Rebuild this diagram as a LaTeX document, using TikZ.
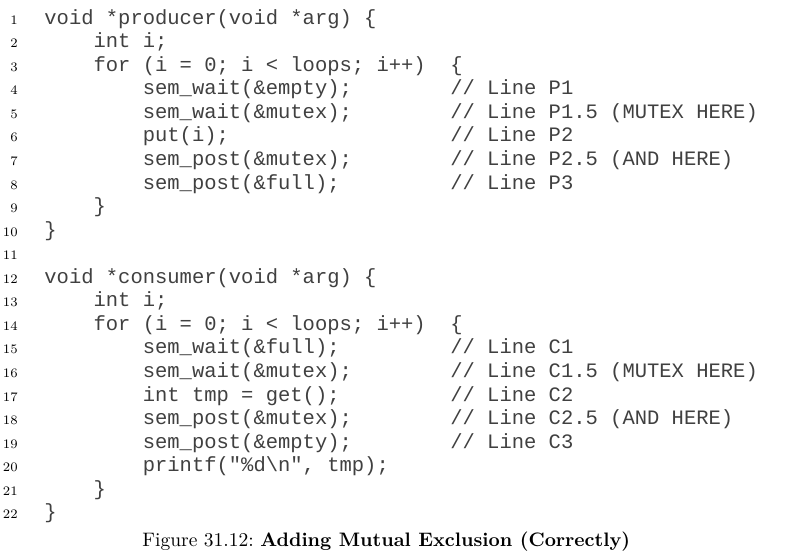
\documentclass[tikz,border=0pt]{standalone}
\usepackage{fontspec}
\setmonofont{Liberation Mono}
\frenchspacing
\newcommand{\codefont}{\fontsize{10.25}{12}\selectfont\ttfamily}
\newcommand{\numfont}{\fontsize{6.5}{7}\selectfont}
\newcommand{\capfont}{\fontsize{9.75}{11}\selectfont}

\begin{document}
\begin{tikzpicture}[x=6.15pt, y=-11.785pt,
  code/.style={font=\codefont, text=black!75, inner sep=0pt, anchor=base west},
  num/.style={font=\numfont, inner sep=0pt, anchor=base east},
  caption/.style={font=\capfont, inner sep=0pt, anchor=base west}]

  \useasboundingbox (0pt,0pt) rectangle (395pt,-277pt);

  \begin{scope}[shift={(22pt,-12pt)}]

  % Line numbers
  \node[num] (L1) at (-2.1,0) {1};
  \node[num] (L2) at (-2.1,1) {2};
  \node[num] (L3) at (-2.1,2) {3};
  \node[num] (L4) at (-2.1,3) {4};
  \node[num] (L5) at (-2.1,4) {5};
  \node[num] (L6) at (-2.1,5) {6};
  \node[num] (L7) at (-2.1,6) {7};
  \node[num] (L8) at (-2.1,7) {8};
  \node[num] (L9) at (-2.1,8) {9};
  \node[num] (L10) at (-2.1,9) {10};
  \node[num] (L11) at (-2.1,10) {11};
  \node[num] (L12) at (-2.1,11) {12};
  \node[num] (L13) at (-2.1,12) {13};
  \node[num] (L14) at (-2.1,13) {14};
  \node[num] (L15) at (-2.1,14) {15};
  \node[num] (L16) at (-2.1,15) {16};
  \node[num] (L17) at (-2.1,16) {17};
  \node[num] (L18) at (-2.1,17) {18};
  \node[num] (L19) at (-2.1,18) {19};
  \node[num] (L20) at (-2.1,19) {20};
  \node[num] (L21) at (-2.1,20) {21};
  \node[num] (L22) at (-2.1,21) {22};

  % Producer
  \node[code] (S1) at (0,0) {void *producer(void *arg) \{};
  \node[code] (S2) at (4,1) {int i;};
  \node[code] (S3) at (4,2) {for (i = 0; i < loops; i++)~~\{};
  \node[code] (S4) at (8,3) {sem\_wait(\&empty);};
  \node[code] (S5) at (8,4) {sem\_wait(\&mutex);};
  \node[code] (S6) at (8,5) {put(i);};
  \node[code] (S7) at (8,6) {sem\_post(\&mutex);};
  \node[code] (S8) at (8,7) {sem\_post(\&full);};
  \node[code] (S9) at (4,8) {\}};
  \node[code] (S10) at (0,9) {\}};

  % Consumer
  \node[code] (S12) at (0,11) {void *consumer(void *arg) \{};
  \node[code] (S13) at (4,12) {int i;};
  \node[code] (S14) at (4,13) {for (i = 0; i < loops; i++)~~\{};
  \node[code] (S15) at (8,14) {sem\_wait(\&full);};
  \node[code] (S16) at (8,15) {sem\_wait(\&mutex);};
  \node[code] (S17) at (8,16) {int tmp = get();};
  \node[code] (S18) at (8,17) {sem\_post(\&mutex);};
  \node[code] (S19) at (8,18) {sem\_post(\&empty);};
  \node[code] (S20) at (8,19) {printf("\%d\textbackslash n", tmp);};
  \node[code] (S21) at (4,20) {\}};
  \node[code] (S22) at (0,21) {\}};

  % Comments
  \node[code] (R4) at (33,3) {// Line P1};
  \node[code] (R5) at (33,4) {// Line P1.5 (MUTEX HERE)};
  \node[code] (R6) at (33,5) {// Line P2};
  \node[code] (R7) at (33,6) {// Line P2.5 (AND HERE)};
  \node[code] (R8) at (33,7) {// Line P3};
  \node[code] (R15) at (33,14) {// Line C1};
  \node[code] (R16) at (33,15) {// Line C1.5 (MUTEX HERE)};
  \node[code] (R17) at (33,16) {// Line C2};
  \node[code] (R18) at (33,17) {// Line C2.5 (AND HERE)};
  \node[code] (R19) at (33,18) {// Line C3};

  \end{scope}

  % Caption
  \node[caption] (F) at (71pt,-273pt) {Figure 31.12: \textbf{Adding Mutual Exclusion (Correctly)}};

\end{tikzpicture}
\end{document}
